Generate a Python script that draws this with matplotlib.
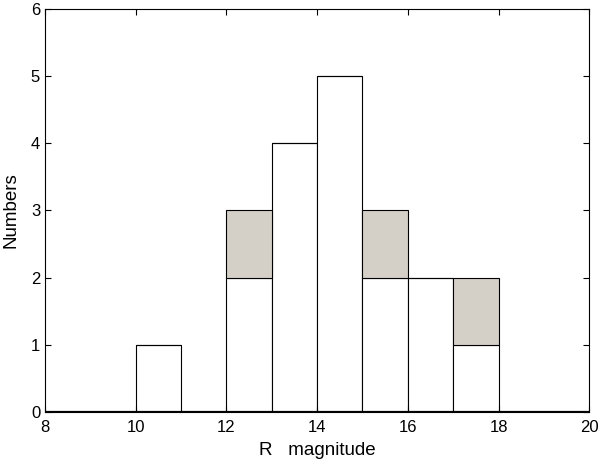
import numpy as np
import matplotlib
matplotlib.use('Agg')
import matplotlib.pyplot as plt

plt.rcParams['font.family'] = ['Liberation Sans', 'DejaVu Sans']

# histogram bins (R magnitude) and counts
bin_left = [8, 9, 10, 11, 12, 13, 14, 15, 16, 17, 18, 19]
white_counts = [0, 0, 1, 0, 2, 4, 5, 2, 2, 1, 0, 0]
gray_counts = [0, 0, 0, 0, 1, 0, 0, 1, 0, 1, 0, 0]

fig = plt.figure(figsize=(6, 4.61), dpi=100)
ax = fig.add_axes([0.075, 0.107, 0.907, 0.873])

ax.bar(bin_left, white_counts, width=1, align='edge', color='white',
       edgecolor='black', linewidth=0.8)
ax.bar(bin_left, gray_counts, width=1, bottom=white_counts, align='edge',
       color='#d4d0c8', edgecolor='black', linewidth=0.8)
ax.axhline(0, color='black', linewidth=1.6)

ax.set_xlim(8, 20)
ax.set_ylim(0, 6)
ax.set_xticks(np.arange(8, 21, 2))
ax.set_yticks(np.arange(0, 7, 1))
ax.tick_params(direction='in', top=True, right=True, labelsize=12, length=4)
ax.tick_params(axis='x', pad=6)
ax.set_xlabel('R   magnitude', fontsize=13.5, labelpad=5)
ax.set_ylabel('Numbers', fontsize=13.5, labelpad=8)

fig.savefig('out.png', dpi=100)
